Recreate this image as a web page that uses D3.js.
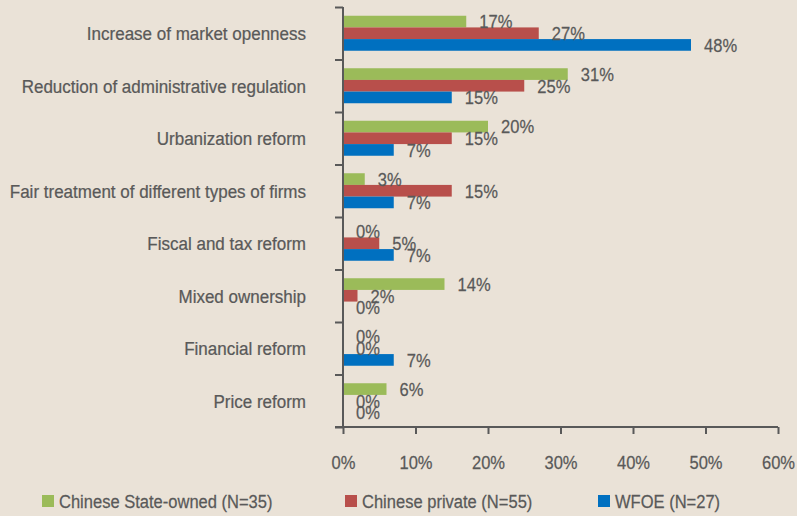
<!DOCTYPE html>
<html>
<head>
<meta charset="utf-8">
<script src="https://cdn.jsdelivr.net/npm/d3@7"></script>
<style>
  body { margin: 0; background: #eae2d7; }
  svg { display: block; font-family: 'Liberation Sans', Arial, sans-serif; }
  text { stroke: #595959; stroke-width: 0.25px; }
</style>
</head>
<body>
<div class="svg-container"></div>
<script>
// chart data
const categories = [
    'Increase of market openness',
    'Reduction of administrative regulation',
    'Urbanization reform',
    'Fair treatment of different types of firms',
    'Fiscal and tax reform',
    'Mixed ownership',
    'Financial reform',
    'Price reform'
];
const seriesNames = ['Chinese State-owned (N=35)', 'Chinese private (N=55)', 'WFOE (N=27)'];
const stateOwned = [17, 31, 20, 3, 0, 14, 0, 6];
const privateFirms = [27, 25, 15, 15, 5, 2, 0, 0];
const wfoe = [48, 15, 7, 7, 7, 0, 7, 0];
const xTicks = [0, 10, 20, 30, 40, 50, 60];
const colors = ['#9bbb59', '#b84f4b', '#0070c0'];

const width = 797;
const height = 516;
const margin = { top: 7, right: 19, bottom: 89, left: 343 };
const textColor = '#595959';
const fontSize = '19px';

const seriesValues = [stateOwned, privateFirms, wfoe];
const data = categories.map((c, i) => ({
    category: c,
    values: seriesNames.map((s, k) => ({ series: s, k: k, value: seriesValues[k][i] }))
}));

// move x/y into a transform so the text can be squeezed horizontally (fake condensed face)
function narrow(sel, sx) {
    sel.each(function () {
        const t = d3.select(this);
        const tx = +t.attr('x') || 0;
        const ty = +t.attr('y') || 0;
        t.attr('x', 0).attr('y', 0).attr('transform', `translate(${tx},${ty}) scale(${sx},1)`);
    });
}

const svg = d3.select('.svg-container')
    .append('svg')
    .attr('width', width)
    .attr('height', height);

const x = d3.scaleLinear().domain([0, 60]).range([margin.left, width - margin.right]);
const y0 = d3.scaleBand()
    .domain(categories)
    .range([margin.top, height - margin.bottom])
    .paddingInner(1 / 3)
    .paddingOuter(1 / 6);
const y1 = d3.scaleBand().domain(d3.range(seriesNames.length)).range([0, y0.bandwidth()]);
// boundaries for category ticks
const yEdge = d3.scaleLinear().domain([0, categories.length]).range([margin.top, height - margin.bottom]);

// bars
const groups = svg.selectAll('.group')
    .data(data)
    .enter()
    .append('g')
    .attr('class', 'group')
    .attr('transform', (d) => `translate(0,${y0(d.category)})`);

groups.selectAll('rect')
    .data((d) => d.values)
    .enter()
    .append('rect')
    .attr('x', x(0))
    .attr('y', (d) => y1(d.k))
    .attr('width', (d) => x(d.value) - x(0))
    .attr('height', y1.bandwidth())
    .attr('fill', (d) => colors[d.k]);

// value labels
groups.selectAll('.val')
    .data((d) => d.values)
    .enter()
    .append('text')
    .attr('class', 'val')
    .attr('x', (d) => x(d.value) + 13)
    .attr('y', (d) => y1(d.k) + y1.bandwidth() / 2)
    .attr('dy', '0.36em')
    .attr('fill', textColor)
    .style('font-size', fontSize)
    .text((d) => d.value + '%')
    .call(narrow, 0.87);

// y axis
const yAxis = svg.append('g')
    .attr('transform', `translate(${margin.left},0)`)
    .call(d3.axisLeft(yEdge).ticks(categories.length).tickSize(8).tickFormat(''));
yAxis.selectAll('path, line').attr('stroke', textColor).attr('stroke-width', 2);
yAxis.select('.domain').attr('d', `M0,${margin.top}V${height - margin.bottom}`);

// category labels
svg.selectAll('.cat')
    .data(categories)
    .enter()
    .append('text')
    .attr('class', 'cat')
    .attr('x', 306)
    .attr('y', (d) => y0(d) + y0.bandwidth() / 2)
    .attr('dy', '0.36em')
    .attr('text-anchor', 'end')
    .attr('fill', textColor)
    .style('font-size', fontSize)
    .text((d) => d)
    .call(narrow, 0.895);

// x axis
const xAxis = svg.append('g')
    .attr('transform', `translate(0,${height - margin.bottom})`)
    .call(d3.axisBottom(x).tickValues(xTicks).tickSize(7).tickPadding(21).tickFormat((d) => d + '%'));
xAxis.selectAll('path, line').attr('stroke', textColor).attr('stroke-width', 2);
xAxis.select('.domain').attr('d', `M${margin.left - 8},0H${width - margin.right}`);
xAxis.selectAll('text')
    .attr('fill', textColor)
    .style('font-size', fontSize)
    .style('font-family', "'Liberation Sans', Arial, sans-serif")
    .call(narrow, 0.87);

// legend
const legendX = [42, 345, 598];
const legend = svg.selectAll('.legend')
    .data(seriesNames)
    .enter()
    .append('g')
    .attr('class', 'legend')
    .attr('transform', (d, i) => `translate(${legendX[i]},495)`);
legend.append('rect')
    .attr('width', 12)
    .attr('height', 12)
    .attr('fill', (d, i) => colors[i]);
legend.append('text')
    .attr('x', 17)
    .attr('y', 6)
    .attr('dy', '0.36em')
    .attr('fill', textColor)
    .style('font-size', fontSize)
    .text((d) => d)
    .call(narrow, 0.87);
</script>
</body>
</html>
